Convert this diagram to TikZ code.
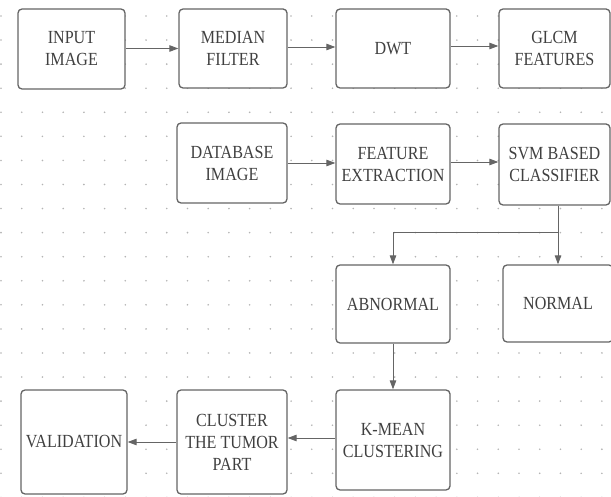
\documentclass[tikz,border=0pt]{standalone}
\usepackage{fontspec}
\setmainfont{Liberation Serif}[FakeStretch=0.87]
\usetikzlibrary{arrows.meta}
\definecolor{trait}{HTML}{656565}
\definecolor{texte}{HTML}{404040}
\definecolor{point}{HTML}{B4B4B4}
\begin{document}
\begin{tikzpicture}[x=1pt,y=-1pt]
\tikzset{bloc/.style={draw=trait, line width=1.3pt, rounded corners=4pt, fill=white, text=texte, align=center, inner sep=0pt, font=\fontsize{18.5}{22}\selectfont},
fleche/.style={draw=trait, line width=0.9pt, -{Triangle[length=9pt,width=6.5pt]}}}
\useasboundingbox (0,0) rectangle (611,497);
\foreach \i in {0,...,29} \foreach \j in {0,...,20} \fill[point] ({1+20.72*\i},{16+24.07*\j}) circle (0.9pt);
\node[bloc, minimum width=107pt, minimum height=80pt] (input) at (71.5,49) {INPUT\\IMAGE};
\node[bloc, minimum width=108pt, minimum height=79pt] (median) at (233,48.5) {MEDIAN\\FILTER};
\node[bloc, minimum width=114pt, minimum height=79pt] (dwt) at (393,48.5) {DWT};
\node[bloc, minimum width=111pt, minimum height=79pt] (glcm) at (554.5,48.5) {GLCM\\FEATURES};
\node[bloc, minimum width=110pt, minimum height=80pt] (database) at (232,163) {DATABASE\\IMAGE};
\node[bloc, minimum width=114pt, minimum height=80pt] (feature) at (393,164) {FEATURE\\EXTRACTION};
\node[bloc, minimum width=111pt, minimum height=81pt] (svm) at (554.5,164.5) {SVM BASED\\CLASSIFIER};
\node[bloc, minimum width=114pt, minimum height=78pt] (abnormal) at (393,304) {ABNORMAL};
\node[bloc, minimum width=110pt, minimum height=77pt] (normal) at (558,303.5) {NORMAL};
\node[bloc, minimum width=114pt, minimum height=100pt] (kmean) at (393,440) {K-MEAN\\CLUSTERING};
\node[bloc, minimum width=110pt, minimum height=104pt] (cluster) at (232,442) {CLUSTER\\THE TUMOR\\PART};
\node[bloc, minimum width=106pt, minimum height=104pt] (validation) at (74,442) {VALIDATION};
\coordinate (fourche) at (558,232);
\draw[fleche] (input.east |- 0,48.5) -- (median.west |- 0,48.5);
\draw[fleche] (median.east |- 0,47) -- (dwt.west |- 0,47);
\draw[fleche] (dwt.east |- 0,46) -- (glcm.west |- 0,46);
\draw[fleche] (database) -- (feature.west |- database);
\draw[fleche] (feature.east |- 0,162) -- (svm.west |- 0,162);
\draw[draw=trait, line width=0.9pt] (svm.south -| fourche) -- (fourche);
\draw[fleche] (fourche) -- (normal.north);
\draw[fleche] (fourche) -| (abnormal.north);
\draw[fleche] (abnormal) -- (kmean);
\draw[fleche] (kmean.west |- 0,438) -- (cluster.east |- 0,438);
\draw[fleche] (cluster.west |- 0,442) -- (validation.east |- 0,442);
\end{tikzpicture}
\end{document}
